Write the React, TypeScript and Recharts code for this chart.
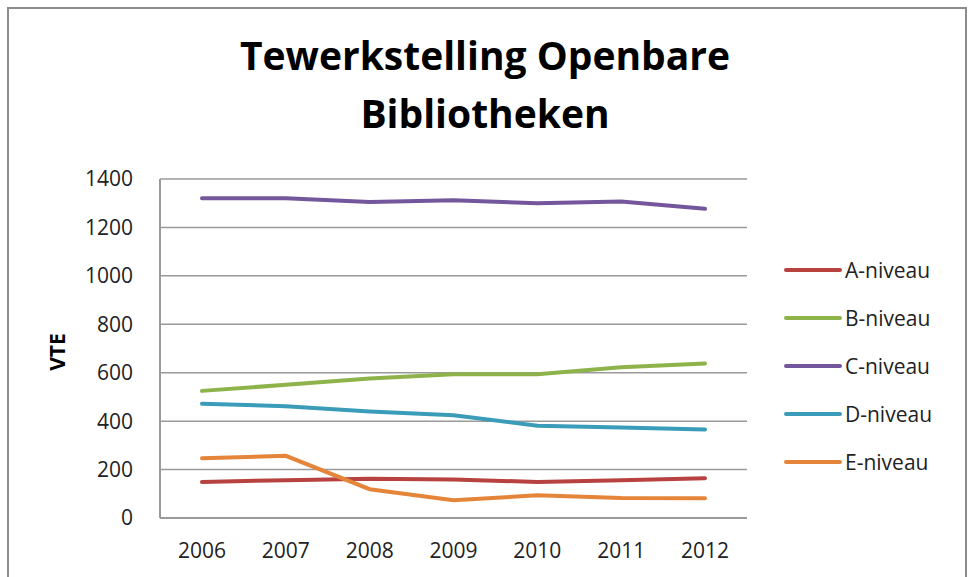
import React from "react";
import { LineChart, Line, XAxis, YAxis, CartesianGrid, Legend } from "recharts";

const years = ["2006", "2007", "2008", "2009", "2010", "2011", "2012"];
const aNiveau = [149, 156, 162, 159, 149, 156, 164];
const bNiveau = [525, 550, 576, 594, 594, 623, 638];
const cNiveau = [1320, 1320, 1305, 1312, 1300, 1307, 1277];
const dNiveau = [472, 462, 440, 424, 381, 374, 366];
const eNiveau = [247, 257, 119, 73, 94, 83, 82];
const yTicks = [0, 200, 400, 600, 800, 1000, 1200, 1400];

const series = [
  { key: "A-niveau", color: "#b8423f" },
  { key: "B-niveau", color: "#8fb34b" },
  { key: "C-niveau", color: "#74569c" },
  { key: "D-niveau", color: "#3b9cb9" },
  { key: "E-niveau", color: "#e5853a" },
];

const data = years.map((year, i) => ({
  year,
  "A-niveau": aNiveau[i],
  "B-niveau": bNiveau[i],
  "C-niveau": cNiveau[i],
  "D-niveau": dNiveau[i],
  "E-niveau": eNiveau[i],
}));

const font = "'Open Sans', sans-serif";

function LegendBox(props: any) {
  const items = props.payload || [];
  return (
    <div style={{ fontFamily: font, fontSize: 21, color: "#222" }}>
      {items.map((it: any) => (
        <div key={it.value} style={{ display: "flex", alignItems: "center", height: 48 }}>
          <svg width={62} height={10}>
            <line x1={3} y1={5} x2={57} y2={5} stroke={it.color} strokeWidth={4} strokeLinecap="round" />
          </svg>
          <span>{it.value}</span>
        </div>
      ))}
    </div>
  );
}

export default function App() {
  return (
    <div style={{ position: "absolute", left: 0, top: 0, width: 970, height: 577, overflow: "hidden", background: "#fff" }}>
      <div
        style={{
          position: "absolute",
          left: 7,
          top: 7,
          width: 956,
          height: 620,
          border: "2px solid #8c8c8c",
        }}
      />
      <div
        style={{
          position: "absolute",
          left: 0,
          top: 26,
          width: 970,
          textAlign: "center",
          fontFamily: font,
          fontWeight: 700,
          fontSize: 39,
          lineHeight: "58px",
          color: "#000",
        }}
      >
        Tewerkstelling Openbare
        <br />
        Bibliotheken
      </div>
      <LineChart width={970} height={577} data={data} margin={{ top: 179, right: 223, bottom: 0, left: 0 }}>
        <CartesianGrid vertical={false} stroke="#9a9a9a" strokeWidth={1.5} />
        <XAxis
          dataKey="year"
          padding={{ left: 42, right: 42 }}
          height={59}
          tickLine={false}
          tickMargin={19}
          axisLine={{ stroke: "#9a9a9a", strokeWidth: 2 }}
          tick={{ fill: "#222", fontSize: 21, fontFamily: font }}
        />
        <YAxis
          width={160}
          domain={[0, 1400]}
          ticks={yTicks}
          interval={0}
          tickLine={false}
          tickMargin={21}
          axisLine={{ stroke: "#9a9a9a", strokeWidth: 2 }}
          tick={{ fill: "#222", fontSize: 21, fontFamily: font }}
          label={{
            content: () => (
              <text
                x={57}
                y={352}
                transform="rotate(-90 57 352)"
                textAnchor="middle"
                dominantBaseline="central"
                fontFamily={font}
                fontWeight={700}
                fontSize={21}
                fill="#000"
              >
                VTE
              </text>
            ),
          }}
        />
        <Legend
          layout="horizontal"
          verticalAlign="middle"
          align="center"
          content={<LegendBox />}
          wrapperStyle={{ position: "absolute", left: 783, top: 246, width: 180 }}
        />
        {series.map((s) => (
          <Line
            key={s.key}
            type="linear"
            dataKey={s.key}
            stroke={s.color}
            strokeWidth={4}
            strokeLinecap="round"
            dot={false}
            activeDot={false}
            isAnimationActive={false}
          />
        ))}
      </LineChart>
    </div>
  );
}
